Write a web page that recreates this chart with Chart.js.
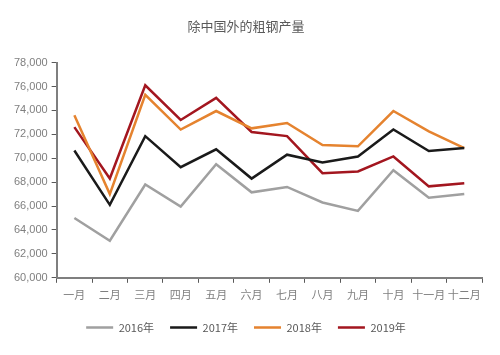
<!DOCTYPE html>
<html><head><meta charset="utf-8">
<script src="https://cdn.jsdelivr.net/npm/chart.js"></script>
<style>html,body{margin:0;padding:0;background:#fff}#w{width:500px;height:355px}</style>
</head><body><div id="w"><canvas id="c"></canvas></div>
<script>
const months = ['一月','二月','三月','四月','五月','六月','七月','八月','九月','十月','十一月','十二月'];
const y2016 = [65000,63100,67800,65950,69500,67150,67600,66300,65600,69000,66700,67000];
const y2017 = [70650,66100,71850,69250,70750,68300,70300,69650,70150,72400,70600,70850];
const y2018 = [73600,67000,75300,72400,73950,72500,72950,71100,71000,73950,72250,70850];
const y2019 = [72600,68300,76100,73200,75050,72200,71850,68750,68900,70150,67650,67900];
const seriesNames = ['2016年','2017年','2018年','2019年'];
const font = "'Liberation Sans','Noto Sans CJK SC',sans-serif";
const cjk = "'Noto Sans CJK SC',sans-serif";
function ds(label, data, color){
  return {label, data, borderColor: color, backgroundColor: color, borderWidth: 2.5,
    pointRadius: 0, tension: 0, fill: false};
}
new Chart(document.getElementById('c'), {
  type: 'line',
  data: { labels: months, datasets: [
    ds(seriesNames[0], y2016, '#a0a0a0'),
    ds(seriesNames[1], y2017, '#1a1a1a'),
    ds(seriesNames[2], y2018, '#e5832f'),
    ds(seriesNames[3], y2019, '#a3161f')
  ]},
  options: {
    responsive: true, maintainAspectRatio: false, animation: false,
    layout: { padding: { left: 10, right: 18, top: 0, bottom: 12 } },
    plugins: {
      title: { display: true, text: '除中国外的粗钢产量', color: '#595959',
        font: { family: cjk, size: 13, weight: 'normal' }, padding: { top: 18, bottom: 29 } },
      legend: { position: 'bottom', labels: { boxWidth: 27, boxHeight: 0, color: '#595959',
        font: { family: cjk, size: 11 }, padding: 16 } },
      tooltip: { enabled: false }
    },
    scales: {
      x: { offset: true,
        grid: { display: true, drawOnChartArea: false, offset: true, tickLength: 5, color: '#595959', lineWidth: 1 },
        border: { color: '#7f7f7f', width: 2 },
        ticks: { color: '#7f7f7f', font: { family: cjk, size: 11 }, padding: 5, maxRotation: 0, autoSkip: false }
      },
      y: { min: 60000, max: 78000,
        grid: { display: true, drawOnChartArea: false, tickLength: 5, color: '#595959' },
        border: { color: '#7f7f7f', width: 2 },
        ticks: { stepSize: 2000, color: '#7f7f7f', font: { family: font, size: 11 }, padding: 4,
          callback: v => v.toLocaleString('en-US') }
      }
    }
  }
});
</script></body></html>
